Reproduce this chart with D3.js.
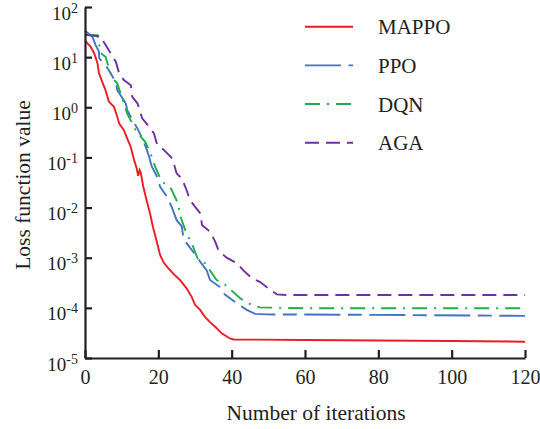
<!DOCTYPE html>
<html>
<head>
<meta charset="utf-8">
<script src="https://cdn.jsdelivr.net/npm/d3@7"></script>
<style>
  body { margin: 0; background: #fff; }
  svg { display: block; }
  svg text { font-family: "Liberation Serif", "Times New Roman", serif; }
</style>
</head>
<body>
<div id="chart-area"></div>
<script>
// values (iteration, loss)
var mappoIter = [0, 1.5, 2.5, 3.4, 3.8, 4.7, 5.6, 6.5, 7.9, 8.8, 9.3, 10.6, 11.5, 12.5, 13.4, 14.1, 14.5, 14.9, 15.2, 15.9, 16.8, 17.7, 18.6, 19.5, 20.5, 21.5, 22.7, 24.2, 25.9, 27.7, 29.1, 30, 31.4, 32.7, 34.1, 35.5, 37.3, 39.5, 40.5, 60, 80, 100, 120];
var mappoLoss = [21.4, 16.2, 12, 7.6, 4.8, 3.2, 2.2, 1.3, 1.02, 0.65, 0.48, 0.35, 0.24, 0.16, 0.089, 0.06, 0.043, 0.056, 0.05, 0.026, 0.014, 0.0078, 0.0039, 0.0022, 0.00112, 0.00079, 0.00062, 0.00047, 0.00036, 0.000245, 0.000166, 0.000115, 0.000091, 0.000066, 0.000052, 0.000042, 0.000031, 0.0000245, 0.0000234, 0.0000229, 0.0000224, 0.0000219, 0.0000211];

var ppoIter = [0, 0.6, 2, 2.9, 3.8, 3.9, 5.6, 6.5, 8.4, 8.8, 9.7, 11.1, 11.5, 12.9, 14.3, 15.6, 16.6, 17.5, 18.2, 19.6, 20.5, 22.3, 23.6, 25, 26.4, 26.8, 27.7, 30, 31.8, 33.2, 34.1, 36.8, 37.7, 41.4, 44.1, 46.4, 49.5, 80, 120];
var ppoLoss = [34, 31, 25.7, 17.4, 12.9, 9.5, 6.9, 5.5, 3.2, 2.2, 1.74, 1.2, 0.89, 0.56, 0.38, 0.24, 0.16, 0.102, 0.066, 0.042, 0.026, 0.0166, 0.0105, 0.0056, 0.0042, 0.0026, 0.00195, 0.00117, 0.00076, 0.00056, 0.00036, 0.00026, 0.000195, 0.000123, 0.000091, 0.000076, 0.000074, 0.0000724, 0.0000692];

var dqnIter = [0, 3.4, 4.3, 5.6, 6, 7.4, 8.8, 10.6, 11.5, 13.8, 15.2, 16.5, 17.9, 19.1, 20.9, 23.2, 25.4, 25.9, 27.7, 29.1, 30.9, 32.7, 35.9, 38.2, 42.3, 44.5, 47.7, 60, 120];
var dqnLoss = [27.5, 27.5, 12, 10.2, 8.1, 3.8, 3, 1.2, 0.76, 0.35, 0.26, 0.2, 0.12, 0.066, 0.033, 0.026, 0.012, 0.0071, 0.003, 0.00195, 0.00089, 0.00078, 0.00036, 0.00029, 0.000155, 0.000123, 0.000102, 0.000098, 0.000098];

var agaIter = [0, 4.2, 5.2, 7, 8.4, 9.3, 10.6, 12.5, 12.9, 14.3, 15.6, 17, 18.8, 19.7, 21.5, 23.8, 25, 26.4, 27.7, 28.6, 30.2, 31.5, 31.9, 34.1, 35.5, 36.4, 38.6, 41.4, 43.2, 45.5, 47.7, 50, 52.3, 55, 60, 120];
var agaLoss = [28, 26, 19.5, 12, 8.1, 4.8, 3.5, 2.75, 1.62, 1.2, 0.6, 0.45, 0.3, 0.178, 0.141, 0.095, 0.048, 0.038, 0.0224, 0.0141, 0.01, 0.0076, 0.0045, 0.0033, 0.0021, 0.0014, 0.001, 0.00078, 0.00056, 0.00039, 0.00033, 0.000245, 0.000186, 0.00018, 0.00018, 0.00018];

var seriesNames = ["MAPPO", "PPO", "DQN", "AGA"];
var seriesColors = ["#ed1c24", "#4472c4", "#1fae4b", "#7030a0"];
var seriesDash = ["none", "36,7.5,14,7.5", "15,7,2,7", "14,7"];

var xTicks = [0, 20, 40, 60, 80, 100, 120];
var yExponents = [2, 1, 0, -1, -2, -3, -4, -5];

var series = [
    {iter: mappoIter, loss: mappoLoss},
    {iter: ppoIter, loss: ppoLoss},
    {iter: dqnIter, loss: dqnLoss},
    {iter: agaIter, loss: agaLoss}
];

var ink = "#231f20";

var margin = {left:85, right:15, top:7, bottom:71};
var width = 540 - margin.left - margin.right,
    height = 429 - margin.top - margin.bottom;

var svg = d3.select("#chart-area")
    .append("svg")
        .attr("width", 540)
        .attr("height", 429);

var g = svg.append("g")
    .attr("transform", "translate(" + margin.left + ", " + margin.top + ")");

var x = d3.scaleLinear()
    .domain([0, 120])
    .range([0, width]);

var y = d3.scaleLog()
    .domain([1e-5, 1e2])
    .range([height, 0]);

// lines
var line = d3.line()
    .x(function(d){ return x(d[0]); })
    .y(function(d){ return y(d[1]); });

series.forEach(function(s, i){
    var pts = s.iter.map(function(v, j){ return [v, s.loss[j]]; });
    g.append("path")
        .datum(pts)
        .attr("fill", "none")
        .attr("stroke", seriesColors[i])
        .attr("stroke-width", 1.9)
        .attr("stroke-dasharray", seriesDash[i])
        .attr("d", line);
});

// axes
var xAxisCall = d3.axisBottom(x)
    .tickValues(xTicks)
    .tickSizeInner(-8)
    .tickSizeOuter(0);
var xAxis = g.append("g")
    .attr("transform", "translate(0, " + height + ")")
    .call(xAxisCall);
xAxis.selectAll("text")
    .attr("y", 26)
    .attr("dy", 0)
    .attr("font-size", "20px")
    .attr("fill", ink);

var yAxisCall = d3.axisLeft(y)
    .tickValues(yExponents.map(function(e){ return Math.pow(10, e); }))
    .tickSizeInner(-7)
    .tickSizeOuter(0)
    .tickFormat("");
var yAxis = g.append("g")
    .call(yAxisCall);

g.selectAll(".domain, .tick line")
    .attr("stroke", ink)
    .attr("stroke-width", 2.2);

yAxis.selectAll(".tick").each(function(d, i){
    var t = d3.select(this).select("text")
        .attr("x", -7)
        .attr("y", 12)
        .attr("dy", 0)
        .attr("text-anchor", "end")
        .attr("fill", ink)
        .attr("font-size", "19px");
    t.append("tspan").text("10");
    t.append("tspan")
        .attr("dy", -7)
        .attr("font-size", "14px")
        .text(yExponents[i]);
});

// axis titles
svg.append("text")
    .attr("x", 316)
    .attr("y", 420)
    .attr("text-anchor", "middle")
    .attr("font-size", "21.5px")
    .attr("fill", ink)
    .text("Number of iterations");

svg.append("text")
    .attr("transform", "translate(30, 185) rotate(-90)")
    .attr("text-anchor", "middle")
    .attr("font-size", "21.5px")
    .attr("fill", ink)
    .text("Loss function value");

// legend
var legend = svg.append("g");
seriesNames.forEach(function(name, i){
    var ly = 26.7 + i * 38.67;
    legend.append("line")
        .attr("x1", 305).attr("x2", 353)
        .attr("y1", ly).attr("y2", ly)
        .attr("stroke", seriesColors[i])
        .attr("stroke-width", 1.9)
        .attr("stroke-dasharray", seriesDash[i]);
    legend.append("text")
        .attr("x", 378)
        .attr("y", ly + 7.5)
        .attr("font-size", "21px")
        .attr("fill", ink)
        .text(name);
});
</script>
</body>
</html>
